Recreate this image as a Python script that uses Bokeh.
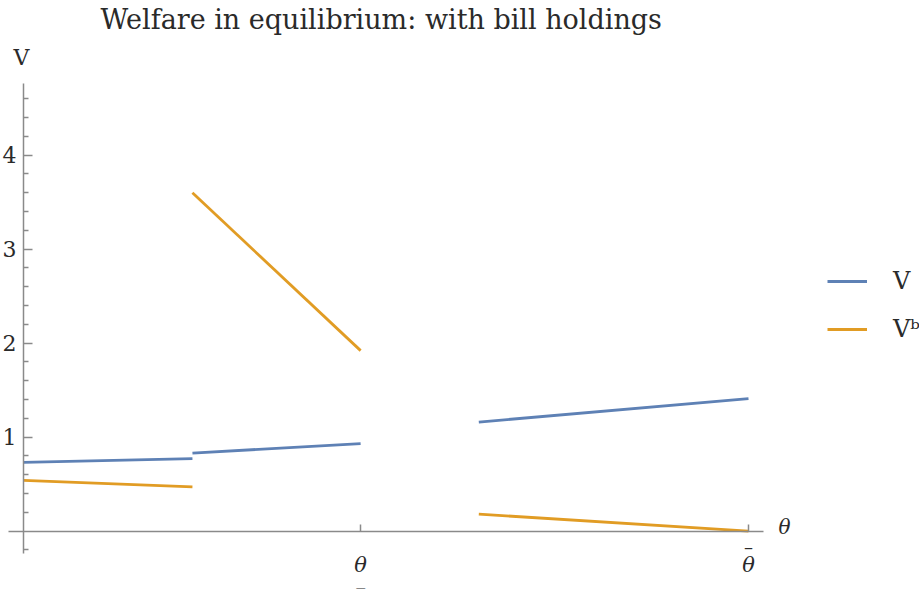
from bokeh.plotting import figure
from bokeh.models import (LinearAxis, FixedTicker, Range1d, Legend, LegendItem,
                          Label, Title)
from bokeh.embed import file_html
from bokeh.resources import INLINE
from bokeh.core.properties import value

# ---- data (theta normalised so that theta_bar = 1) ----
theta_low = 0.465
theta_high = 1.0
x_ticks = [theta_low, theta_high]
x_tick_labels = ["θ", "θ"]
y_major = [1, 2, 3, 4]
y_minor = [-0.2, 0.2, 0.4, 0.6, 0.8, 1.2, 1.4, 1.6, 1.8, 2.2, 2.4, 2.6, 2.8,
           3.2, 3.4, 3.6, 3.8, 4.2, 4.4, 4.6]

V_x = [[0.0, 0.233], [0.233, 0.465], [0.628, 1.0]]
V_y = [[0.73, 0.77], [0.83, 0.93], [1.16, 1.41]]
Vb_x = [[0.0, 0.233], [0.233, 0.465], [0.628, 1.0]]
Vb_y = [[0.54, 0.47], [3.60, 1.92], [0.18, 0.0]]

BLUE = "#5E81B5"
ORANGE = "#E19C24"
AXIS = "#8a8a8a"
TXT = "#2a2a2a"
SERIF = "DejaVu Serif"

W, H = 919, 592
TITLE_H = 39
px_per_x = 725.0
px_per_y = 93.3

x_start = -23.0 / px_per_x
x_end = x_start + W / px_per_x
y_start = -(H - 531) / px_per_y
y_end = (531 - TITLE_H) / px_per_y

p = figure(width=W, height=H, output_backend="svg", toolbar_location=None,
           x_range=Range1d(x_start, x_end), y_range=Range1d(y_start, y_end),
           x_axis_type=None, y_axis_type=None, min_border=0,
           outline_line_color=None)
p.grid.visible = False

t = Title(text="Welfare in equilibrium: with bill holdings", align="left",
          offset=100, text_font=SERIF, text_font_size="27px",
          text_font_style="normal", text_color=TXT, standoff=2)
p.add_layout(t, "above")

# axes crossing at the origin
xa = LinearAxis(fixed_location=0, bounds=(x_start + 8 / px_per_x, 1.021),
                ticker=FixedTicker(ticks=x_ticks, minor_ticks=[]),
                major_label_overrides={theta_low: x_tick_labels[0],
                                       theta_high: x_tick_labels[1]},
                axis_line_color=AXIS, axis_line_width=1.5,
                major_tick_line_color=AXIS, major_tick_in=7, major_tick_out=0,
                major_tick_line_width=1.5,
                major_label_standoff=22, major_label_text_font=SERIF,
                major_label_text_font_style="italic",
                major_label_text_font_size="21px", major_label_text_color=TXT)
p.add_layout(xa, "below")

ya = LinearAxis(fixed_location=0, bounds=(-0.236, 4.76),
                ticker=FixedTicker(ticks=y_major, minor_ticks=y_minor),
                axis_line_color=AXIS, axis_line_width=1.5,
                major_tick_line_color=AXIS, major_tick_in=9, major_tick_out=0,
                minor_tick_line_color=AXIS, minor_tick_in=5, minor_tick_out=0,
                major_tick_line_width=1.5, minor_tick_line_width=1.5,
                major_label_standoff=7, major_label_text_font=SERIF,
                major_label_text_font_size="22px", major_label_text_color=TXT)
p.add_layout(ya, "left")

# bar under the lower theta tick label, bar over the upper one
p.text(x=[theta_low], y=[0], text=["_"], y_offset=57, text_align="center",
       text_baseline="bottom", text_font=value(SERIF), text_font_size="18px",
       text_color=TXT)
p.text(x=[theta_high], y=[0], text=["–"], y_offset=16, text_align="center",
       text_baseline="middle", text_font=value(SERIF), text_font_size="18px",
       text_color=TXT)

# axis labels
p.add_layout(Label(x=21, y=H - 57, x_units="screen", y_units="screen", text="V",
                   text_font=SERIF, text_font_size="22px", text_color=TXT,
                   text_align="center", text_baseline="middle"))
p.add_layout(Label(x=784, y=H - 526, x_units="screen", y_units="screen", text="θ",
                   text_font=SERIF, text_font_size="20px", text_font_style="italic",
                   text_color=TXT, text_align="center", text_baseline="middle"))

rv = p.multi_line(xs=V_x, ys=V_y, line_color=BLUE, line_width=2.8)
rb = p.multi_line(xs=Vb_x, ys=Vb_y, line_color=ORANGE, line_width=2.8)

legend = Legend(items=[LegendItem(label="V", renderers=[rv]),
                       LegendItem(label="Vᵇ", renderers=[rb])],
                location=(827, 248), padding=0, margin=0, spacing=18,
                glyph_width=40, glyph_height=30, label_height=30,
                label_standoff=26, label_text_font=SERIF,
                label_text_font_size="24px", label_text_color=TXT,
                border_line_color=None, background_fill_alpha=0)
p.add_layout(legend, "center")

open("out.html", "w").write(file_html(p, INLINE))
